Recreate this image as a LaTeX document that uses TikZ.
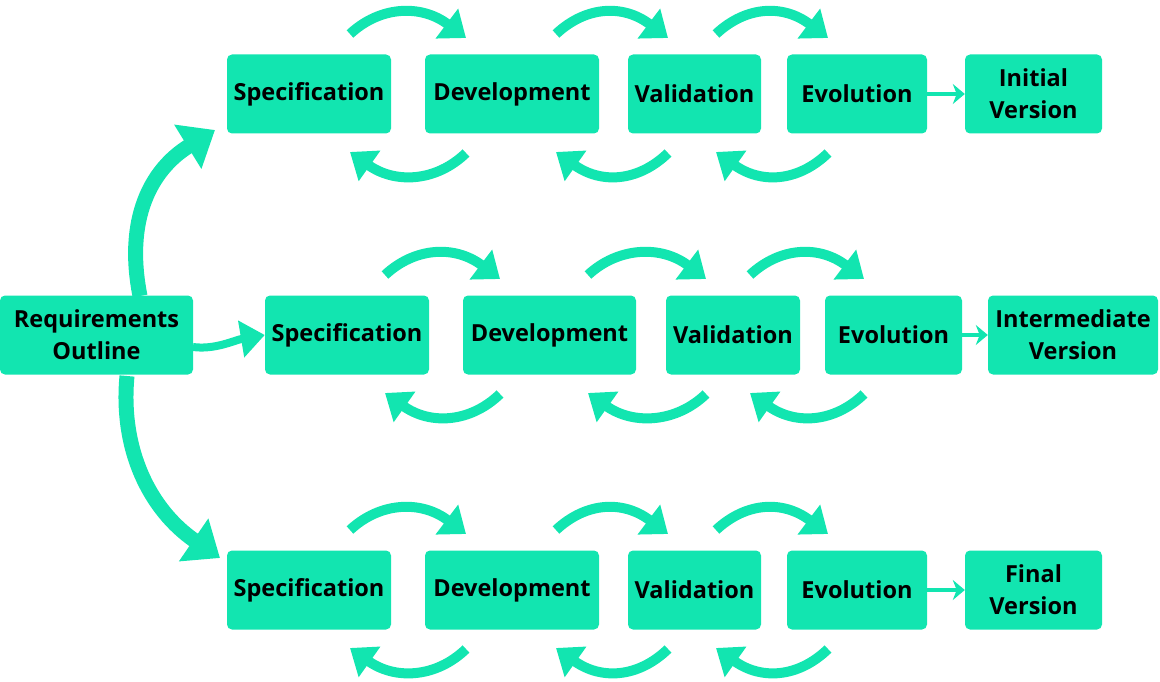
\documentclass[tikz,border=0pt]{standalone}
\usepackage{fontspec}
\setmainfont{Open Sans}
\usetikzlibrary{arrows.meta}
\definecolor{tq}{HTML}{12E5B0}
\begin{document}
\begin{tikzpicture}[x=1pt,y=-1pt,
  box/.style={fill=tq,rounded corners=5pt,inner sep=0pt,font=\bfseries\fontsize{23.5}{32}\selectfont,align=center,text=black},
  cyc/.style={draw=tq,line width=10pt,-{Triangle[length=24pt,width=36pt]}},
  big/.style={draw=tq,line width=15pt,-{Triangle[length=32pt,width=50pt]}},
  sm/.style={draw=tq,line width=4pt,-{Stealth[length=12pt,width=20pt]}}]
\useasboundingbox (0,0) rectangle (1160,682);
\newcommand{\bx}[6]{\node[box,minimum width=#4-#3,minimum height=79pt] (#1) at ({(#3+#4)/2},#5) {#6};}
\foreach \r/\y in {a/94,c/590}{
  \bx{s\r}{}{227}{391}{\y}{Specification}
  \bx{d\r}{}{425}{599}{\y}{Development}
  \bx{v\r}{}{628}{761}{\y}{Validation}
  \bx{e\r}{}{787}{927}{\y}{Evolution}
}
\bx{fa}{}{965}{1102}{94}{Initial\\Version}
\bx{fc}{}{965}{1102}{590}{Final\\Version}
\bx{sb}{}{265}{429}{335}{Specification}
\bx{db}{}{463}{636}{335}{Development}
\bx{vb}{}{666}{800}{335}{Validation}
\bx{eb}{}{825}{962}{335}{Evolution}
\bx{fb}{}{988}{1158}{335}{Intermediate\\Version}
\bx{req}{}{0}{193}{335}{Requirements\\Outline}
% cycle arrows
\foreach \dy/\a/\b/\c/\d/\e/\f in {0/350/466/556/668/716/828, 496/350/466/556/668/716/828, 241/385/500/588/706/750/864}{
  \draw[cyc] (\a,34+\dy) .. controls ({\a+30},6+\dy) and ({\b-45},4+\dy) .. (\b,38+\dy);
  \draw[cyc] (\c,34+\dy) .. controls ({\c+30},6+\dy) and ({\d-45},4+\dy) .. (\d,38+\dy);
  \draw[cyc] (\e,34+\dy) .. controls ({\e+30},6+\dy) and ({\f-45},4+\dy) .. (\f,38+\dy);
  \draw[cyc] ({\b},153+\dy) .. controls ({\b-30},182+\dy) and ({\a+45},184+\dy) .. ({\a},152+\dy);
  \draw[cyc] ({\d},153+\dy) .. controls ({\d-30},182+\dy) and ({\c+45},184+\dy) .. ({\c},152+\dy);
  \draw[cyc] ({\f},153+\dy) .. controls ({\f-30},182+\dy) and ({\e+45},184+\dy) .. ({\e},152+\dy);
}
\draw[sm] (ea) -- (fa);
\draw[sm] (eb) -- (fb);
\draw[sm] (ec) -- (fc);
\draw[big] (140,296) .. controls (125,220) and (150,170) .. (215,130);
\draw[big] (127,376) .. controls (120,450) and (150,510) .. (220,558);
\draw[draw=tq,line width=8pt,-{Triangle[length=24pt,width=36pt]}] (193,347) .. controls (215,350) and (235,340) .. (sb.west);
\end{tikzpicture}
\end{document}
